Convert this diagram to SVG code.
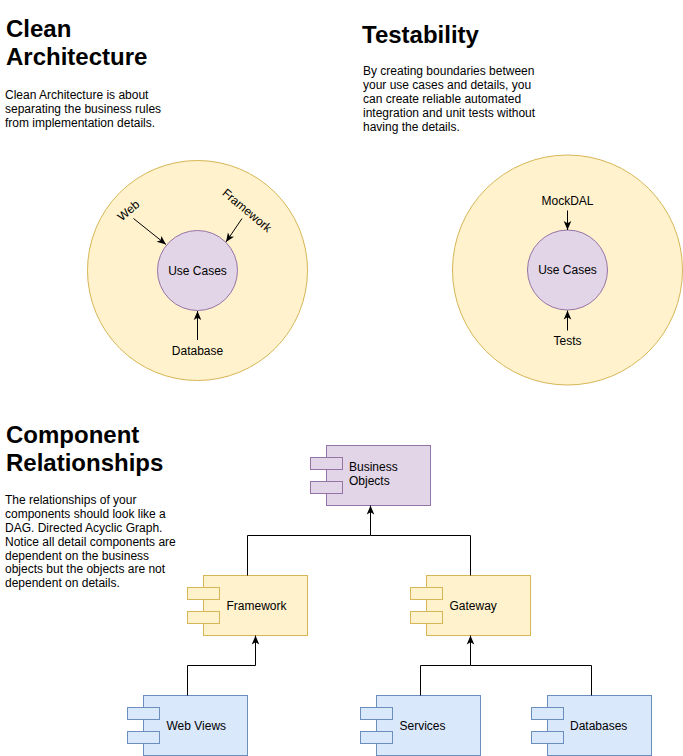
<svg xmlns="http://www.w3.org/2000/svg" width="683" height="756" viewBox="0 0 683 756">
<style>
text{font-family:"Liberation Sans",Arial,Helvetica,sans-serif;fill:#000}
.h1{font-size:24px;font-weight:bold}
.p{font-size:12px}
.lbl{font-size:12px}
.mid{text-anchor:middle}
.y{fill:#fff2cc;stroke:#d6b656;stroke-width:1}
.pu{fill:#e1d5e7;stroke:#9673a6;stroke-width:1}
.b{fill:#dae8fc;stroke:#6c8ebf;stroke-width:1}
.e{fill:none;stroke:#000;stroke-width:1}
</style>
<defs>
<marker id="arr" markerUnits="userSpaceOnUse" viewBox="0 0 10 10" refX="10" refY="5" markerWidth="9" markerHeight="9" orient="auto">
<path d="M0,0.8 L10,5 L0,9.2 L2.5,5 Z" fill="#000"/>
</marker>
</defs>

<g id="clean-arch-text">
<text class="h1" x="6" y="37">Clean</text>
<text class="h1" x="6" y="65">Architecture</text>
<text class="p" x="5" y="99">Clean Architecture is about</text>
<text class="p" x="5" y="113">separating the business rules</text>
<text class="p" x="5" y="127">from implementation details.</text>
</g>

<g id="testability-text">
<text class="h1" x="362" y="43">Testability</text>
<text class="p" x="363" y="75">By creating boundaries between</text>
<text class="p" x="363" y="89">your use cases and details, you</text>
<text class="p" x="363" y="103">can create reliable automated</text>
<text class="p" x="363" y="117">integration and unit tests without</text>
<text class="p" x="363" y="131">having the details.</text>
</g>

<g id="component-text">
<text class="h1" x="6" y="443">Component</text>
<text class="h1" x="6" y="471">Relationships</text>
<text class="p" x="5" y="504">The relationships of your</text>
<text class="p" x="5" y="518">components should look like a</text>
<text class="p" x="5" y="532">DAG. Directed Acyclic Graph.</text>
<text class="p" x="5" y="546">Notice all detail components are</text>
<text class="p" x="5" y="560">dependent on the business</text>
<text class="p" x="5" y="573">objects but the objects are not</text>
<text class="p" x="5" y="587">dependent on details.</text>
</g>

<g id="outer-left"><circle class="y" cx="197.5" cy="270.5" r="110"/></g>
<g id="usecases-left"><circle class="pu" cx="197.5" cy="270.5" r="40"/><text class="lbl mid" x="197.5" y="274.5">Use Cases</text></g>
<g id="web-label"><text class="lbl mid" transform="translate(128.5,210.5) rotate(-40)" x="0" y="4">Web</text></g>
<g id="framework-label"><text class="lbl mid" transform="translate(247,210.5) rotate(40)" x="0" y="4">Framework</text></g>
<g id="database-label"><text class="lbl mid" x="197.5" y="355">Database</text></g>

<g id="outer-right"><circle class="y" cx="567.5" cy="270" r="115"/></g>
<g id="usecases-right"><circle class="pu" cx="567.5" cy="270" r="40"/><text class="lbl mid" x="567.5" y="274">Use Cases</text></g>
<g id="mockdal-label"><text class="lbl mid" x="567.5" y="205">MockDAL</text></g>
<g id="tests-label"><text class="lbl mid" x="567.5" y="345">Tests</text></g>

<g id="business-objects">
<rect class="pu" x="326.5" y="445.5" width="104" height="60"/>
<rect class="pu" x="310.5" y="457.5" width="32" height="12"/>
<rect class="pu" x="310.5" y="481.5" width="32" height="12"/>
<text class="lbl" x="349" y="471">Business</text>
<text class="lbl" x="349" y="485">Objects</text>
</g>
<g id="framework">
<rect class="y" x="203.5" y="575.5" width="104" height="60"/>
<rect class="y" x="187.5" y="587.5" width="32" height="12"/>
<rect class="y" x="187.5" y="611.5" width="32" height="12"/>
<text class="lbl" x="226.5" y="609.5">Framework</text>
</g>
<g id="gateway">
<rect class="y" x="426.5" y="575.5" width="104" height="60"/>
<rect class="y" x="410.5" y="587.5" width="32" height="12"/>
<rect class="y" x="410.5" y="611.5" width="32" height="12"/>
<text class="lbl" x="449.5" y="609.5">Gateway</text>
</g>
<g id="web-views">
<rect class="b" x="143.5" y="695.5" width="104" height="60"/>
<rect class="b" x="127.5" y="707.5" width="32" height="12"/>
<rect class="b" x="127.5" y="731.5" width="32" height="12"/>
<text class="lbl" x="166.5" y="729.5">Web Views</text>
</g>
<g id="services">
<rect class="b" x="376.5" y="695.5" width="104" height="60"/>
<rect class="b" x="360.5" y="707.5" width="32" height="12"/>
<rect class="b" x="360.5" y="731.5" width="32" height="12"/>
<text class="lbl" x="399.5" y="729.5">Services</text>
</g>
<g id="databases">
<rect class="b" x="547.5" y="695.5" width="104" height="60"/>
<rect class="b" x="531.5" y="707.5" width="32" height="12"/>
<rect class="b" x="531.5" y="731.5" width="32" height="12"/>
<text class="lbl" x="570" y="729.5">Databases</text>
</g>

<g id="connectors">
<path class="e" d="M133.5,218.5 L166,244.5" marker-end="url(#arr)"/>
<path class="e" d="M242,218.5 L226,242" marker-end="url(#arr)"/>
<path class="e" d="M197.5,340 L197.5,311" marker-end="url(#arr)"/>
<path class="e" d="M567.5,210.5 L567.5,230" marker-end="url(#arr)"/>
<path class="e" d="M567.5,330.5 L567.5,310.5" marker-end="url(#arr)"/>
<path class="e" d="M247.5,575.5 L247.5,535.5 L370.5,535.5 L370.5,505.5" marker-end="url(#arr)"/>
<path class="e" d="M470.5,575.5 L470.5,535.5 L370.5,535.5"/>
<path class="e" d="M187.5,695.5 L187.5,665.5 L255.5,665.5 L255.5,635.5" marker-end="url(#arr)"/>
<path class="e" d="M420.5,695.5 L420.5,665.5 L470.5,665.5 L470.5,635.5" marker-end="url(#arr)"/>
<path class="e" d="M591.5,695.5 L591.5,665.5 L470.5,665.5"/>
</g>
</svg>
